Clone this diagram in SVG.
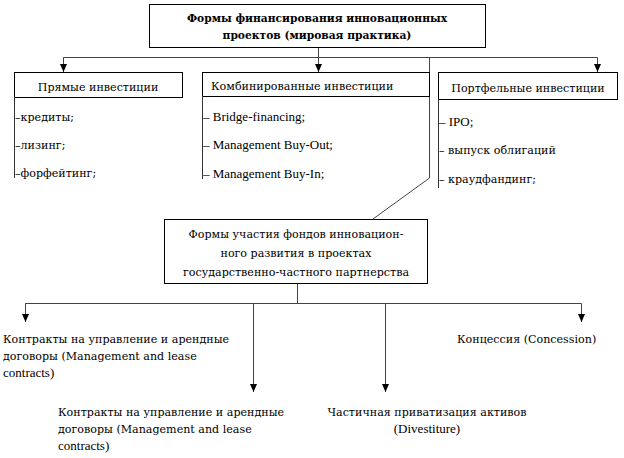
<svg xmlns="http://www.w3.org/2000/svg" width="624" height="458" viewBox="0 0 624 458">
<style>
text{font-family:"DejaVu Serif",serif;font-size:11.1px;fill:#000}
.b{font-weight:bold;font-size:10.7px}
.l{font-family:"Liberation Serif",serif;font-size:13px}
.c{text-anchor:middle}
.box{fill:#fff;stroke:#000;stroke-width:1}
.ln{fill:none;stroke:#333;stroke-width:1}
.con{fill:none;stroke:#444;stroke-width:1}
</style>
<defs>
<marker id="ar" viewBox="0 0 8 8" refX="8" refY="4" markerWidth="8" markerHeight="8" markerUnits="userSpaceOnUse" orient="auto">
<path d="M0,0.5 L8,4 L0,7.5 Z" fill="#000"/>
</marker>
</defs>
<rect width="624" height="458" fill="#fff"/>
<g id="connectors">
<path class="con" d="M318.5,47 V72" marker-end="url(#ar)"/>
<path class="con" d="M63.5,72 V57.5 H597.5 V72" marker-end="url(#ar)"/>
<path class="con" d="M63.5,57.5 V72" marker-end="url(#ar)"/>
<path class="con" d="M429.5,57.5 V178 L373,219"/>
<path class="con" d="M297.5,283 V303.5"/>
<path class="con" d="M25.5,322 V303.5 H581.5 V322" marker-end="url(#ar)"/>
<path class="con" d="M25.5,303.5 V322" marker-end="url(#ar)"/>
<path class="con" d="M253.5,303.5 V392" marker-end="url(#ar)"/>
<path class="con" d="M385.5,303.5 V392" marker-end="url(#ar)"/>
</g>
<g id="top">
<rect class="box" x="149.5" y="4.5" width="336" height="43"/>
<text class="b c" x="317" y="22">Формы финансирования инновационных</text>
<text class="b c" x="317" y="39">проектов (мировая практика)</text>
</g>
<g id="direct">
<rect class="box" x="14.5" y="72.5" width="168" height="25"/>
<path class="ln" d="M14.5,97 V178"/>
<text class="c" x="98" y="91">Прямые инвестиции</text>
<text x="15" y="121">–кредиты;</text>
<text x="15" y="149">–лизинг;</text>
<text x="15" y="177">–форфейтинг;</text>
</g>
<g id="combined">
<rect class="box" x="202.5" y="72.5" width="227" height="24"/>
<path class="ln" d="M202.5,96 V179"/>
<text x="211" y="90">Комбинированные инвестиции</text>
<text class="l" x="203" y="121">– Bridge-financing;</text>
<text class="l" x="203" y="149">– Management Buy-Out;</text>
<text class="l" x="203" y="178">– Management Buy-In;</text>
</g>
<g id="portfolio">
<rect class="box" x="438.5" y="72.5" width="179" height="27"/>
<path class="ln" d="M438.5,99 V188"/>
<text class="c" x="528" y="92">Портфельные инвестиции</text>
<text class="l" x="439" y="126">– IPO;</text>
<text x="439" y="154">– выпуск облигаций</text>
<text x="439" y="183">– краудфандинг;</text>
</g>
<g id="ppp">
<rect class="box" x="164.5" y="219.5" width="263" height="64"/>
<text class="c" x="296" y="238">Формы участия фондов инновацион-</text>
<text class="c" x="296" y="257">ного развития в проектах</text>
<text class="c" x="296" y="276">государственно-частного партнерства</text>
</g>
<g id="mgmt1">
<text x="3" y="343">Контракты на управление и арендные</text>
<text x="3" y="360">договоры (Management and lease</text>
<text class="l" x="3" y="377">contracts)</text>
</g>
<g id="mgmt2">
<text x="58" y="416">Контракты на управление и арендные</text>
<text x="58" y="433">договоры (Management and lease</text>
<text class="l" x="58" y="450">contracts)</text>
</g>
<g id="divest">
<text class="c" x="427" y="416">Частичная приватизация активов</text>
<text class="c l" x="427" y="433">(Divestiture)</text>
</g>
<g id="concession">
<text x="457" y="343">Концессия (Concession)</text>
</g>
</svg>
